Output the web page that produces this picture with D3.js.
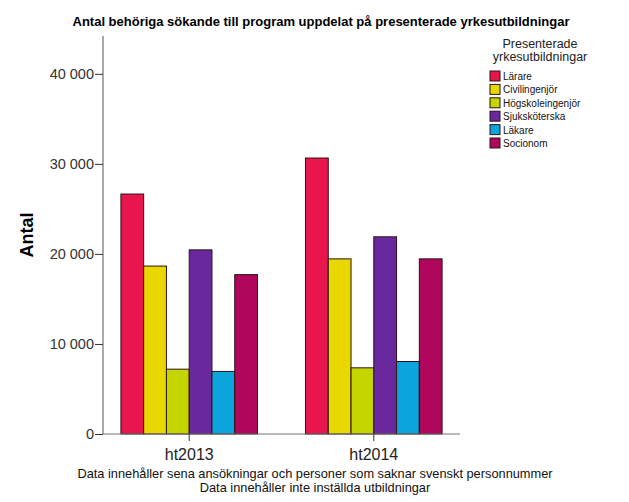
<!DOCTYPE html>
<html><head><meta charset="utf-8">
<script src="https://cdn.jsdelivr.net/npm/d3@7"></script>
<style>body{margin:0;background:#fff}svg{display:block;font-family:"Liberation Sans",Arial,sans-serif}</style>
</head><body><svg id="c" width="629" height="502"></svg>
<script>
const categories = ["ht2013", "ht2014"];
const seriesNames = ["Lärare", "Civilingenjör", "Högskoleingenjör", "Sjuksköterska", "Läkare", "Socionom"];
const seriesColors = ["#e8164d", "#e8d800", "#c4d500", "#6a289e", "#0ca4dd", "#b0065c"];
const ht2013 = [26650, 18650, 7200, 20450, 6950, 17700];
const ht2014 = [30650, 19450, 7350, 21900, 8050, 19450];
const yTicks = [0, 10000, 20000, 30000, 40000];
const title = "Antal behöriga sökande till program uppdelat på presenterade yrkesutbildningar";
const footnotes = ["Data innehåller sena ansökningar och personer som saknar svenskt personnummer", "Data innehåller inte inställda utbildningar"];

const values = [ht2013, ht2014];
const svg = d3.select("#c");
const x0 = d3.scaleBand().domain(categories).range([103, 460]).paddingInner(0.26).paddingOuter(0.097);
const x1 = d3.scaleBand().domain(seriesNames).range([0, x0.bandwidth()]);
const y = d3.scaleLinear().domain([0, 44200]).range([434, 36]);

svg.append("text").attr("x", 321).attr("y", 26).attr("text-anchor", "middle")
  .attr("font-weight", "bold").attr("font-size", 13).text(title);

// bars
categories.forEach((c, i) => {
  const g = svg.append("g").attr("transform", `translate(${x0(c)},0)`);
  g.selectAll("rect").data(values[i]).join("rect")
    .attr("x", (d, j) => x1(seriesNames[j]))
    .attr("width", x1.bandwidth())
    .attr("y", d => y(d))
    .attr("height", d => y(0) - y(d))
    .attr("fill", (d, j) => seriesColors[j])
    .attr("stroke", "#2b1416").attr("stroke-width", 1);
});

// y axis
const ya = svg.append("g").attr("transform", "translate(103,0)")
  .call(d3.axisLeft(y).tickValues(yTicks).tickSize(8).tickPadding(1)
    .tickFormat(d => d3.format(",")(d).replace(/,/g, " ")));
ya.select(".domain").attr("d", `M0,${y(0)}V36`).attr("stroke", "#555");
ya.selectAll(".tick line").attr("stroke", "#333");
ya.selectAll(".tick text").attr("font-size", 14.5).attr("fill", "#333").attr("font-family", "Liberation Sans, Arial, sans-serif");

// x axis
const xa = svg.append("g").attr("transform", `translate(0,${y(0)})`)
  .call(d3.axisBottom(x0).tickSize(7).tickPadding(8));
xa.select(".domain").attr("d", "M103,0H460").attr("stroke", "#777");
xa.selectAll(".tick line").attr("stroke", "#333");
xa.selectAll(".tick text").attr("font-size", 16).attr("fill", "#222").attr("font-family", "Liberation Sans, Arial, sans-serif");

svg.append("text").attr("transform", "translate(33,235) rotate(-90)").attr("text-anchor", "middle")
  .attr("font-weight", "bold").attr("font-size", 18).text("Antal");

footnotes.forEach((t, i) => {
  svg.append("text").attr("x", 315).attr("y", 478 + i * 14).attr("text-anchor", "middle")
    .attr("font-size", 12.8).attr("fill", "#111").text(t);
});

// legend
svg.append("text").attr("x", 540).attr("y", 48).attr("text-anchor", "middle").attr("font-size", 12.5).attr("fill", "#222").text("Presenterade");
svg.append("text").attr("x", 540).attr("y", 61).attr("text-anchor", "middle").attr("font-size", 12.5).attr("fill", "#222").text("yrkesutbildningar");
const lg = svg.append("g").selectAll("g").data(seriesNames).join("g")
  .attr("transform", (d, i) => `translate(490,${71 + i * 13.4})`);
lg.append("rect").attr("width", 10).attr("height", 10).attr("fill", (d, i) => seriesColors[i]).attr("stroke", "#2b1416");
lg.append("text").attr("x", 13).attr("y", 9).attr("font-size", 10).attr("fill", "#111").text(d => d);
</script></body></html>
